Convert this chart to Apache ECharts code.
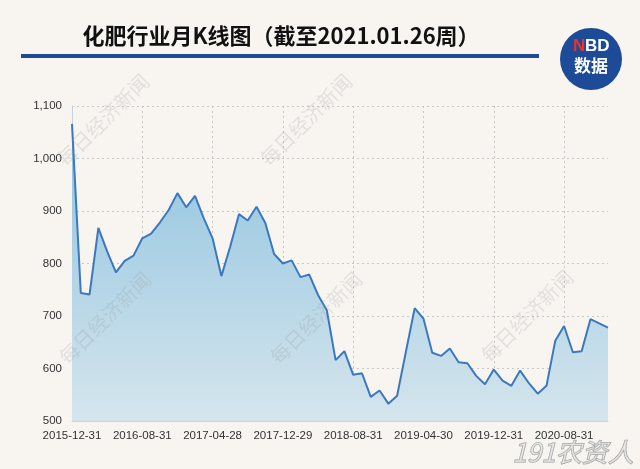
<!DOCTYPE html>
<html>
<head>
<meta charset="utf-8">
<script src="https://cdn.jsdelivr.net/npm/echarts@6/dist/echarts.min.js"></script>
<style>
html,body{margin:0;padding:0;background:#f8f5f1;}
#c{width:640px;height:469px;}
</style>
</head>
<body>
<div id="c"></div>
<script>
var titleText = '化肥行业月K线图（截至2021.01.26周）';
var dates = ['2015-12-31','2016-01-29','2016-02-29','2016-03-31','2016-04-29','2016-05-31','2016-06-30','2016-07-29',
'2016-08-31','2016-09-30','2016-10-31','2016-11-30','2016-12-30','2017-01-26','2017-02-28','2017-03-31',
'2017-04-28','2017-05-31','2017-06-30','2017-07-31','2017-08-31','2017-09-29','2017-10-31','2017-11-30',
'2017-12-29','2018-01-31','2018-02-28','2018-03-30','2018-04-27','2018-05-31','2018-06-29','2018-07-31',
'2018-08-31','2018-09-28','2018-10-31','2018-11-30','2018-12-28','2019-01-31','2019-02-28','2019-03-29',
'2019-04-30','2019-05-31','2019-06-28','2019-07-31','2019-08-30','2019-09-30','2019-10-31','2019-11-29',
'2019-12-31','2020-01-23','2020-02-28','2020-03-31','2020-04-30','2020-05-29','2020-06-30','2020-07-31',
'2020-08-31','2020-09-30','2020-10-30','2020-11-30','2020-12-31','2021-01-26'];
var values = [1066,744,741,868,823,783,805,815,
848,857,878,902,934,907,929,886,
848,776,832,894,882,908,877,818,
800,806,774,779,740,711,616,633,
588,591,546,558,533,548,632,715,
695,630,624,638,612,610,586,570,
598,577,567,596,572,552,567,653,
681,631,633,694,686,678];
var yMin = 500, yMax = 1100, yStep = 100;

var chart = echarts.init(document.getElementById('c'), null, {renderer:'canvas'});
var wmStyle = {text:'每日经济新闻', fill:'rgba(150,150,150,0.22)', font:'20px "Noto Sans CJK SC"', align:'center', verticalAlign:'middle'};
function wm(x,y){return {type:'text', x:x, y:y, rotation:Math.PI/4, z:100, silent:true, style:wmStyle};}
chart.setOption({
  backgroundColor:'#f8f5f1',
  animation:false,
  title:{text:titleText, left:276, top:20, textAlign:'center',
    textStyle:{fontSize:22, fontWeight:'bold', color:'#111', fontFamily:'"Noto Sans CJK SC"'}},
  grid:{left:72, right:32, top:106, bottom:48},
  xAxis:{type:'category', data:dates, boundaryGap:false,
    axisLine:{lineStyle:{color:'#c9d2da', width:1}},
    axisTick:{show:false},
    axisLabel:{interval:7, color:'#333', fontSize:11.5, margin:9, fontFamily:'"Liberation Sans"'},
    splitLine:{show:true, interval:7, lineStyle:{color:'#c8c8c8', type:[2,3], width:1}}},
  yAxis:{type:'value', min:yMin, max:yMax, interval:yStep,
    axisLine:{show:true, lineStyle:{color:'#c9d2da', width:1}},
    axisTick:{show:false},
    axisLabel:{color:'#333', fontSize:11.5, margin:10, fontFamily:'"Liberation Sans"',
      formatter:function(v){return v.toLocaleString('en-US');}},
    splitLine:{show:true, lineStyle:{color:'#c8c8c8', type:[2,3], width:1}}},
  series:[{type:'line', data:values, symbol:'none',
    lineStyle:{color:'#3b78bf', width:2},
    areaStyle:{opacity:1, color:new echarts.graphic.LinearGradient(0,0,0,1,[
      {offset:0, color:'#8ec3df'},{offset:1, color:'#d5e5ed'}])}}],
  graphic:[
    {type:'rect', shape:{x:21, y:54, width:518, height:4}, style:{fill:'#1d4b98'}},
    {type:'circle', shape:{cx:591, cy:59, r:31}, style:{fill:'#1d4b98'}},
    {type:'text', x:573, y:46, style:{text:'N', fill:'#e8322c', font:'bold 17px "Liberation Sans"', verticalAlign:'middle'}},
    {type:'text', x:585, y:46, style:{text:'BD', fill:'#fff', font:'bold 17px "Liberation Sans"', verticalAlign:'middle'}},
    {type:'text', x:591, y:66, style:{text:'数据', fill:'#fff', font:'bold 17px "Noto Sans CJK SC"', align:'center', verticalAlign:'middle'}},
    wm(103,120), wm(306,120), wm(105,318), wm(316,318), wm(527,316),
    {type:'text', x:573, y:452, z:100, style:{text:'191农资人', fill:'rgba(225,225,225,0.6)', stroke:'#a0a0a0', lineWidth:1,
      font:'italic 26px "Noto Sans CJK SC"', align:'center', verticalAlign:'middle'}}
  ]
});
</script>
</body>
</html>
